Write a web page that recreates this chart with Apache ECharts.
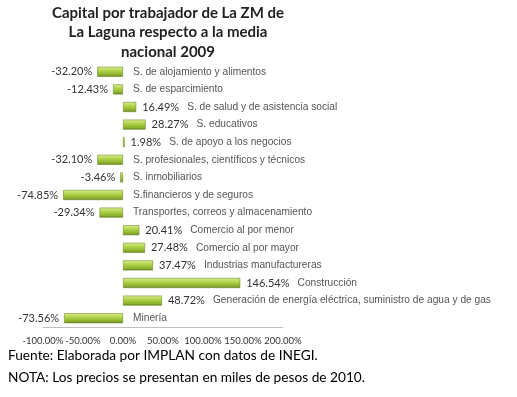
<!DOCTYPE html>
<html>
<head>
<meta charset="utf-8">
<script src="https://cdn.jsdelivr.net/npm/echarts@6/dist/echarts.min.js"></script>
<style>
  html, body { margin: 0; padding: 0; background: #fff; }
  #chart { width: 517px; height: 397px; }
</style>
</head>
<body>
<div id="chart"></div>
<script>
// 数据
const categories = [
  'S. de alojamiento y alimentos',
  'S. de esparcimiento',
  'S. de salud y de asistencia social',
  'S. educativos',
  'S. de apoyo a los negocios',
  'S. profesionales, científicos y técnicos',
  'S. inmobiliarios',
  'S.financieros y de seguros',
  'Transportes, correos y almacenamiento',
  'Comercio al por menor',
  'Comercio al por mayor',
  'Industrias manufactureras',
  'Construcción',
  'Generación de energía eléctrica, suministro de agua y de gas',
  'Minería'
]
const values = [-32.20, -12.43, 16.49, 28.27, 1.98, -32.10, -3.46, -74.85, -29.34, 20.41, 27.48, 37.47, 146.54, 48.72, -73.56]
const xTicks = [-100, -50, 0, 50, 100, 150, 200]

const pct = v => v.toFixed(2) + '%'

const barColor = {
  type: 'linear', x: 0, y: 0, x2: 0, y2: 1,
  colorStops: [
    { offset: 0, color: '#dcf095' },
    { offset: 0.4, color: '#b0d34a' },
    { offset: 0.8, color: '#8cb02e' },
    { offset: 1, color: '#5f7d1c' }
  ]
}

const rich = {
  v: { fontFamily: 'Lato', fontSize: 11, color: '#333' },
  n: { fontFamily: 'Liberation Sans', fontSize: 10.2, color: '#555' },
  g: { width: 8 }
}

// 主系列：正值显示 数值 + 名称，负值只显示名称
const mainData = values.map((v, i) => ({
  value: v,
  label: {
    show: true,
    position: 'right',
    distance: v >= 0 ? 6 : 10,
    formatter: v >= 0 ? `{v|${pct(v)}}{g|}{n|${categories[i]}}` : `{n|${categories[i]}}`,
    rich
  }
}))
// 辅助系列：负值的数值标签放在左侧
const negData = values.map(v => (v < 0 ? v : '-'))

const option = {
  animation: false,
  title: [
    {
      text: 'Capital por trabajador de La ZM de\nLa Laguna respecto a la media\nnacional 2009',
      left: 168,
      top: 3,
      padding: 0,
      textAlign: 'center',
      textStyle: { fontFamily: 'Lato', fontWeight: 'bold', fontSize: 15, lineHeight: 19.5, color: '#222' }
    },
    {
      text: 'Fuente: Elaborada por IMPLAN con datos de INEGI.\nNOTA: Los precios se presentan en miles de pesos de 2010.',
      left: 8,
      top: 345,
      padding: 0,
      textStyle: { fontFamily: 'Lato', fontWeight: 'normal', fontSize: 13.7, lineHeight: 22, color: '#000' }
    }
  ],
  grid: { left: 43, right: 234, top: 63, bottom: 70 },
  xAxis: {
    type: 'value',
    min: xTicks[0],
    max: xTicks[xTicks.length - 1],
    interval: 50,
    splitLine: { show: false },
    axisTick: { show: false },
    axisLine: { show: true, onZero: false, lineStyle: { color: '#bfbfbf' } },
    axisLabel: {
      formatter: v => pct(v),
      fontFamily: 'Lato',
      fontSize: 9.5,
      color: '#333',
      margin: 9
    }
  },
  yAxis: {
    type: 'category',
    inverse: true,
    data: categories,
    axisLine: { show: false },
    axisTick: { show: false },
    axisLabel: { show: false }
  },
  series: [
    {
      type: 'bar',
      data: mainData,
      barWidth: 10,
      itemStyle: { color: barColor, borderColor: '#6f8f28', borderWidth: 0.6 }
    },
    {
      type: 'bar',
      data: negData,
      barWidth: 10,
      barGap: '-100%',
      itemStyle: { color: 'rgba(0,0,0,0)' },
      label: {
        show: true,
        position: 'left',
        distance: 5,
        formatter: p => pct(p.value),
        fontFamily: 'Lato',
        fontSize: 11,
        color: '#333'
      }
    }
  ]
}

const myChart = echarts.init(document.getElementById('chart'))
myChart.setOption(option)
window.addEventListener('resize', () => {
  myChart.resize()
})
</script>
</body>
</html>
